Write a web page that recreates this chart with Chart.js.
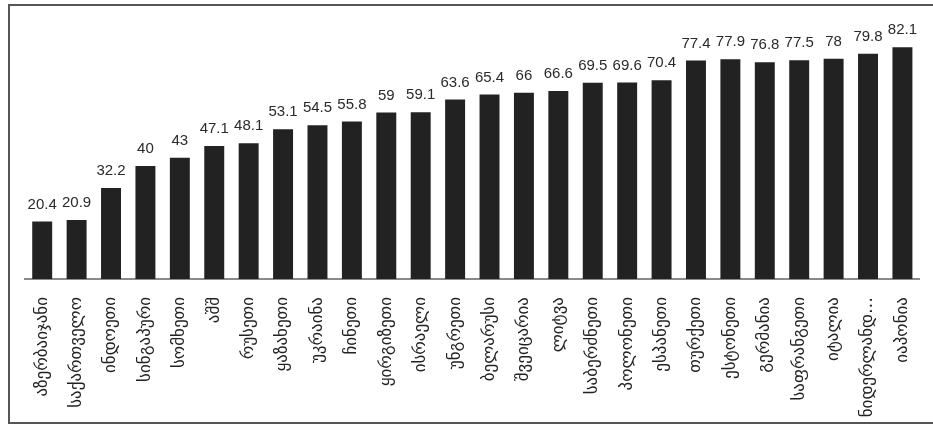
<!DOCTYPE html>
<html lang="ka">

<head>
  <meta charset="utf-8">
  <style>
    body {
      margin: 0;
      background-color: #ffffff;
    }

    .chart-container {
      position: relative;
      width: 933px;
      height: 426px;
    }
  </style>
</head>

<body>
  <div class="chart-container">
    <canvas id="myChart"></canvas>
  </div>
  <script src="https://cdn.jsdelivr.net/npm/chart.js"></script>
  <script>

    const COUNTRIES = [
      'აზერბაიჯანი', 'საქართველო', 'ინდოეთი', 'სინგაპური', 'სომხეთი', 'აშშ',
      'რუსეთი', 'ყაზახეთი', 'უკრაინა', 'ჩინეთი', 'ყირგიზეთი', 'ისრაელი',
      'უნგრეთი', 'ბელარუსი', 'შვეიცარია', 'ლიტვა', 'საბერძნეთი', 'პოლონეთი',
      'ესპანეთი', 'თურქეთი', 'ესტონეთი', 'გერმანია', 'საფრანგეთი', 'იტალია',
      'ნიდერლანდ…', 'იაპონია'
    ];
    const VALUES = [
      20.4, 20.9, 32.2, 40, 43, 47.1,
      48.1, 53.1, 54.5, 55.8, 59, 59.1,
      63.6, 65.4, 66, 66.6, 69.5, 69.6,
      70.4, 77.4, 77.9, 76.8, 77.5, 78,
      79.8, 82.1
    ];
    const Y_MAX = 90;

    /* ------------------------------------------------ */

    // value labels above each bar
    const valueLabels = {
      id: 'valueLabels',
      afterDatasetsDraw(chart) {
        const ctx = chart.ctx;
        const meta = chart.getDatasetMeta(0);
        ctx.save();
        ctx.font = '15px "Liberation Sans", sans-serif';
        ctx.fillStyle = '#2a2a2a';
        ctx.textAlign = 'center';
        ctx.textBaseline = 'middle';
        meta.data.forEach((bar, i) => {
          ctx.fillText(String(VALUES[i]), bar.x, bar.y - 17);
        });
        ctx.restore();
      }
    };

    // frame round the whole picture
    const frame = {
      id: 'frame',
      beforeDraw(chart) {
        const ctx = chart.ctx;
        ctx.save();
        ctx.strokeStyle = '#555555';
        ctx.lineWidth = 2;
        ctx.strokeRect(9, 5, 960, 418);
        ctx.restore();
      }
    };

    let ctx = document.getElementById('myChart').getContext('2d');

    let chart = new Chart(ctx, {
      type: 'bar',
      data: {
        labels: COUNTRIES,
        datasets: [{
          data: VALUES,
          backgroundColor: '#222222',
          borderWidth: 0,
          barPercentage: 0.58,
          categoryPercentage: 1.0
        }]
      },
      options: {
        responsive: true,
        maintainAspectRatio: false,
        animation: false,
        layout: {
          padding: { top: 25, left: 25, right: 9, bottom: 0 }
        },
        scales: {
          x: {
            grid: { display: false },
            border: { display: true, color: '#8a8a8a', width: 2 },
            ticks: {
              color: '#222222',
              font: { family: '"DejaVu Sans", sans-serif', size: 17 },
              minRotation: 90,
              maxRotation: 90,
              autoSkip: false,
              padding: 10
            },
            afterFit: (s) => { s.height = 147; }
          },
          y: {
            display: false,
            min: 0,
            max: Y_MAX
          }
        },
        plugins: {
          legend: { display: false },
          tooltip: { enabled: false }
        }
      },
      plugins: [frame, valueLabels]
    });

  </script>
</body>

</html>
